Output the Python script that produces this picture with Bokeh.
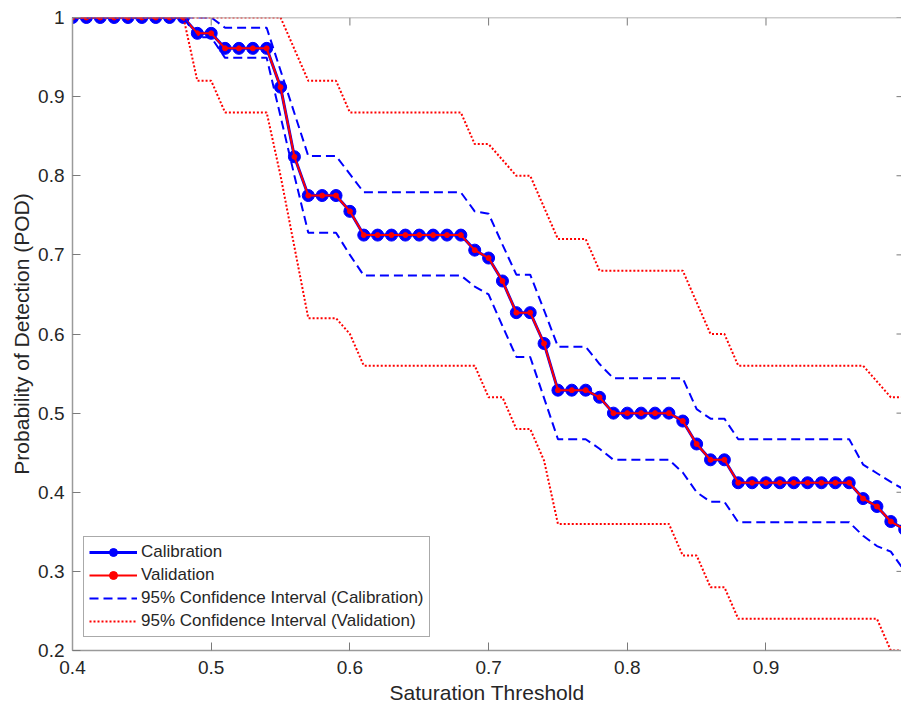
import math
from bokeh.plotting import figure
from bokeh.models import Range1d, FixedTicker, Legend, LegendItem, Span
from bokeh.embed import file_html
from bokeh.resources import INLINE

# Saturation thresholds (x)
thresholds = [0.40, 0.41, 0.42, 0.43, 0.44, 0.45, 0.46, 0.47, 0.48, 0.49,
              0.50, 0.51, 0.52, 0.53, 0.54, 0.55, 0.56, 0.57, 0.58, 0.59,
              0.60, 0.61, 0.62, 0.63, 0.64, 0.65, 0.66, 0.67, 0.68, 0.69,
              0.70, 0.71, 0.72, 0.73, 0.74, 0.75, 0.76, 0.77, 0.78, 0.79,
              0.80, 0.81, 0.82, 0.83, 0.84, 0.85, 0.86, 0.87, 0.88, 0.89,
              0.90, 0.91, 0.92, 0.93, 0.94, 0.95, 0.96, 0.97, 0.98, 0.99,
              1.00]

# Probability of detection - calibration
pod_calibration = [1.000, 1.000, 1.000, 1.000, 1.000, 1.000, 1.000, 1.000, 1.000, 0.980,
                   0.980, 0.961, 0.961, 0.961, 0.961, 0.912, 0.824, 0.775, 0.775, 0.775,
                   0.755, 0.725, 0.725, 0.725, 0.725, 0.725, 0.725, 0.725, 0.725, 0.706,
                   0.696, 0.667, 0.627, 0.627, 0.588, 0.529, 0.529, 0.529, 0.520, 0.500,
                   0.500, 0.500, 0.500, 0.500, 0.490, 0.461, 0.441, 0.441, 0.412, 0.412,
                   0.412, 0.412, 0.412, 0.412, 0.412, 0.412, 0.412, 0.392, 0.382, 0.363,
                   0.353]

# Probability of detection - validation (overlaps calibration)
pod_validation = [1.000, 1.000, 1.000, 1.000, 1.000, 1.000, 1.000, 1.000, 1.000, 0.980,
                  0.980, 0.961, 0.961, 0.961, 0.961, 0.912, 0.824, 0.775, 0.775, 0.775,
                  0.755, 0.725, 0.725, 0.725, 0.725, 0.725, 0.725, 0.725, 0.725, 0.706,
                  0.696, 0.667, 0.627, 0.627, 0.588, 0.529, 0.529, 0.529, 0.520, 0.500,
                  0.500, 0.500, 0.500, 0.500, 0.490, 0.461, 0.441, 0.441, 0.412, 0.412,
                  0.412, 0.412, 0.412, 0.412, 0.412, 0.412, 0.412, 0.392, 0.382, 0.363,
                  0.353]

# 95% CI (calibration)
cal_upper = [1.000, 1.000, 1.000, 1.000, 1.000, 1.000, 1.000, 1.000, 1.000, 1.000,
             1.000, 0.987, 0.987, 0.987, 0.987, 0.933, 0.879, 0.825, 0.825, 0.825,
             0.802, 0.779, 0.779, 0.779, 0.779, 0.779, 0.779, 0.779, 0.779, 0.755,
             0.752, 0.713, 0.675, 0.675, 0.630, 0.584, 0.584, 0.584, 0.562, 0.544,
             0.544, 0.544, 0.544, 0.544, 0.544, 0.505, 0.493, 0.493, 0.467, 0.467,
             0.467, 0.467, 0.467, 0.467, 0.467, 0.467, 0.467, 0.435, 0.424, 0.413,
             0.403]
cal_lower = [1.000, 1.000, 1.000, 1.000, 1.000, 1.000, 1.000, 1.000, 1.000, 0.975,
             0.975, 0.949, 0.949, 0.949, 0.949, 0.875, 0.800, 0.728, 0.728, 0.728,
             0.700, 0.674, 0.674, 0.674, 0.674, 0.674, 0.674, 0.674, 0.674, 0.660,
             0.650, 0.610, 0.571, 0.571, 0.519, 0.467, 0.467, 0.467, 0.455, 0.441,
             0.441, 0.441, 0.441, 0.441, 0.425, 0.400, 0.388, 0.388, 0.362, 0.362,
             0.362, 0.362, 0.362, 0.362, 0.362, 0.362, 0.362, 0.345, 0.332, 0.325,
             0.300]

# 95% CI (validation)
val_upper = [1.00, 1.00, 1.00, 1.00, 1.00, 1.00, 1.00, 1.00, 1.00, 1.00,
             1.00, 1.00, 1.00, 1.00, 1.00, 1.00, 0.96, 0.92, 0.92, 0.92,
             0.88, 0.88, 0.88, 0.88, 0.88, 0.88, 0.88, 0.88, 0.88, 0.84,
             0.84, 0.82, 0.80, 0.80, 0.76, 0.72, 0.72, 0.72, 0.68, 0.68,
             0.68, 0.68, 0.68, 0.68, 0.68, 0.64, 0.60, 0.60, 0.56, 0.56,
             0.56, 0.56, 0.56, 0.56, 0.56, 0.56, 0.56, 0.56, 0.54, 0.52,
             0.52]
val_lower = [1.00, 1.00, 1.00, 1.00, 1.00, 1.00, 1.00, 1.00, 1.00, 0.92,
             0.92, 0.88, 0.88, 0.88, 0.88, 0.80, 0.71, 0.62, 0.62, 0.62,
             0.60, 0.56, 0.56, 0.56, 0.56, 0.56, 0.56, 0.56, 0.56, 0.56,
             0.52, 0.52, 0.48, 0.48, 0.44, 0.36, 0.36, 0.36, 0.36, 0.36,
             0.36, 0.36, 0.36, 0.36, 0.32, 0.32, 0.28, 0.28, 0.24, 0.24,
             0.24, 0.24, 0.24, 0.24, 0.24, 0.24, 0.24, 0.24, 0.24, 0.20,
             0.20]

x_ticks = [0.4, 0.5, 0.6, 0.7, 0.8, 0.9]
y_ticks = [0.2, 0.3, 0.4, 0.5, 0.6, 0.7, 0.8, 0.9, 1.0]

FONT = "Liberation Sans"
TXT = "#262626"
AXC = "#9a9a9a"
TICKC = "#7a7a7a"

x_rng = Range1d(0.4, 0.9977)
y_rng = Range1d(0.2, 1.0)

p = figure(width=901, height=707, x_range=x_rng, y_range=y_rng,
           output_backend="svg", toolbar_location=None,
           min_border_left=72, min_border_right=0, min_border_top=17, min_border_bottom=57)
p.outline_line_color = None
p.xgrid.visible = False
p.ygrid.visible = False
p.background_fill_color = "white"
p.border_fill_color = "white"

for ax in (p.xaxis[0], p.yaxis[0]):
    ax.axis_line_color = AXC
    ax.axis_line_width = 1.5
    ax.major_tick_line_color = TICKC
    ax.major_tick_line_width = 1
    ax.major_tick_in = 8
    ax.major_tick_out = 0
    ax.minor_tick_line_color = None
    ax.major_label_text_font = FONT
    ax.major_label_text_color = TXT
    ax.major_label_text_font_size = "19px"
    ax.axis_label_text_font = FONT
    ax.axis_label_text_font_size = "21px"
    ax.axis_label_text_font_style = "normal"
    ax.axis_label_text_color = TXT

p.xaxis.ticker = FixedTicker(ticks=x_ticks)
p.yaxis.ticker = FixedTicker(ticks=y_ticks)
p.yaxis.major_label_overrides = {1.0: "1"}
p.xaxis.axis_label = "Saturation Threshold"
p.yaxis.axis_label = "Probability of Detection (POD)"
p.xaxis.major_label_standoff = 10
p.xaxis.axis_label_standoff = 4
p.yaxis.major_label_standoff = 8
p.yaxis.axis_label_standoff = 2

# box: top edge line and inward ticks on the top and right sides
p.add_layout(Span(location=y_rng.end, dimension="width", line_color=AXC, line_width=1.5))
p.ray(x=x_ticks, y=y_rng.end, length=8, length_units="screen", angle=-math.pi / 2,
      line_color=TICKC, line_width=1)
p.ray(x=x_rng.end, y=y_ticks, length=5, length_units="screen", angle=math.pi,
      line_color=TICKC, line_width=1)

BLUE = "#0000ff"
RED = "#ff0000"

r_cal = p.line(thresholds, pod_calibration, line_color=BLUE, line_width=3)
m_cal = p.scatter(thresholds, pod_calibration, size=12, fill_color=BLUE, line_color=BLUE)
r_val = p.line(thresholds, pod_validation, line_color=RED, line_width=2)
m_val = p.scatter(thresholds, pod_validation, size=5, fill_color=RED, line_color=RED)
r_cu = p.line(thresholds, cal_upper, line_color=BLUE, line_width=2, line_dash="9 5")
r_cl = p.line(thresholds, cal_lower, line_color=BLUE, line_width=2, line_dash="9 5")
r_vu = p.line(thresholds, val_upper, line_color=RED, line_width=2, line_dash="2 2")
r_vl = p.line(thresholds, val_lower, line_color=RED, line_width=2, line_dash="2 2")

legend = Legend(items=[
    LegendItem(label="Calibration", renderers=[r_cal, m_cal]),
    LegendItem(label="Validation", renderers=[r_val, m_val]),
    LegendItem(label="95% Confidence Interval (Calibration)", renderers=[r_cu]),
    LegendItem(label="95% Confidence Interval (Validation)", renderers=[r_vu]),
], location=(11, 13))
legend.label_text_font = FONT
legend.label_text_font_size = "17px"
legend.label_text_color = TXT
legend.glyph_width = 48
legend.glyph_height = 20
legend.label_height = 20
legend.label_standoff = 4
legend.spacing = 3
legend.padding = 5
legend.margin = 0
legend.border_line_color = "#555555"
legend.border_line_width = 1
legend.background_fill_color = "white"
legend.background_fill_alpha = 1.0
p.add_layout(legend, "center")

open("out.html", "w").write(file_html(p, INLINE))
